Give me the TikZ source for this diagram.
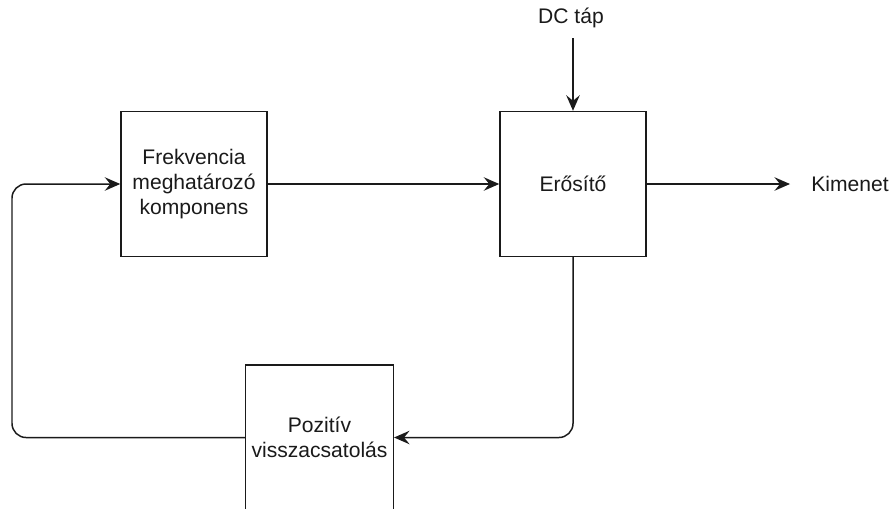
\documentclass[tikz,border=0pt]{standalone}
\usepackage{fontspec}
\setmainfont{Liberation Sans}
\usetikzlibrary{arrows.meta, positioning, calc}
\definecolor{oscline}{HTML}{1A1A1A}
\definecolor{osctext}{HTML}{1A1A1A}
\tikzset{
  block/.style={rectangle, draw=oscline, line width=0.85pt, minimum width=2.92cm,
    minimum height=2.9cm, font=\fontsize{12}{14.2}\selectfont, align=center, text=osctext},
  lbl/.style={font=\fontsize{12}{14.2}\selectfont, text=osctext, inner sep=0pt},
  arr/.style={-{Stealth[length=3.1mm, width=2.7mm, inset=1.1mm]}, line width=0.85pt, oscline},
}

\begin{document}
\begin{tikzpicture}[x=0.02cm, y=-0.02cm]
    \useasboundingbox (0,0) rectangle (896,508);
    % Blocks
    \node[block] (frek) at (194,184) {Frekvencia\\meghatározó\\komponens};
    \node[block] (amp) at (573,184) {Erősítő};
    \node[block] (fb) at (319.5,437.5) {Pozitív\\visszacsatolás};
    % Labels
    \node[lbl] (dc) at (571,18) {DC táp};
    \node[lbl] (out) at (850,184) {Kimenet};
    \coordinate (dcin) at (573,38);
    \coordinate (outend) at (790,184);
    \coordinate (lft) at (12,0);

    \draw[arr] (dcin) -- (amp.north);
    \draw[arr] (frek) -- (amp);
    \draw[arr] (amp.east) -- (outend);
    % Feedback loop
    \draw[arr, rounded corners=8pt] (amp.south) |- (fb.east);
    \draw[arr, rounded corners=8pt] (fb.west) -- (fb.west -| lft) |- (frek.west);
  \end{tikzpicture}
\end{document}
